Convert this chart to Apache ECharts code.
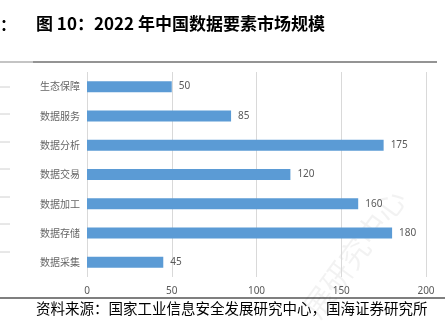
<!DOCTYPE html>
<html><head><meta charset="utf-8">
<script src="https://cdn.jsdelivr.net/npm/echarts@6/dist/echarts.min.js"></script>
<style>html,body{margin:0;padding:0;background:#fff}#c{width:447px;height:334px}</style>
</head><body><div id="c"></div>
<script>
const categories = ['生态保障','数据服务','数据分析','数据交易','数据加工','数据存储','数据采集'];
const values = [50, 85, 175, 120, 160, 180, 45];
const xTicks = [0, 50, 100, 150, 200];
const titleText = '图 10：2022 年中国数据要素市场规模';
const sourceText = '资料来源：国家工业信息安全发展研究中心，国海证券研究所';

const chart = echarts.init(document.getElementById('c'), null, {renderer:'canvas'});
const sideDashes = [87, 114, 142, 169, 197, 224, 252].map(y => ({
  type:'line', shape:{x1:0,y1:y,x2:10,y2:y}, style:{stroke:'#d0d0d0', lineWidth:1}
}));
chart.setOption({
  animation:false,
  grid:{left:87, right:21, top:72, bottom:57},
  xAxis:{type:'value', min:xTicks[0], max:xTicks[xTicks.length-1], interval:50,
    axisLine:{show:false}, axisTick:{show:false},
    splitLine:{lineStyle:{color:'#d9d9d9', width:1}},
    axisLabel:{color:'#595959', fontSize:10, margin:9, fontFamily:'Noto Sans'}},
  yAxis:{type:'category', data:categories, inverse:true,
    axisLine:{show:false}, axisTick:{show:false},
    axisLabel:{color:'#666666', fontSize:10, margin:7, fontFamily:'Noto Sans CJK SC'}},
  series:[{type:'bar', data:values, barWidth:11,
    itemStyle:{color:'#5b9bd5'},
    label:{show:true, position:'right', distance:7, color:'#595959', fontSize:10, fontFamily:'Noto Sans'}}],
  graphic:[
    {type:'text', left:0, top:17, style:{text:'：', font:'bold 16px "Noto Sans CJK SC"', fill:'#000'}},
    {type:'text', left:36, top:15, style:{text:titleText, font:'bold 17px "Noto Sans CJK SC", "Liberation Sans"', fill:'#000'}},
    {type:'line', shape:{x1:0,y1:62,x2:33,y2:62}, style:{stroke:'#b0b0b0', lineWidth:1.5}},
    {type:'line', shape:{x1:33,y1:62,x2:437,y2:62}, style:{stroke:'#707070', lineWidth:1.5}},
    ...sideDashes,
    {type:'line', shape:{x1:0,y1:298,x2:445,y2:298}, style:{stroke:'#000', lineWidth:1.2}},
    {type:'text', left:36, top:301, style:{text:sourceText, font:'14.5px "Noto Sans CJK SC"', fill:'#000'}},
    {type:'text', x:298, y:305, rotation:Math.PI*0.3, style:{text:'展研究中心', font:'30px "Noto Sans CJK SC"', fill:'rgba(0,0,0,0.05)'}}
  ]
});
</script></body></html>
